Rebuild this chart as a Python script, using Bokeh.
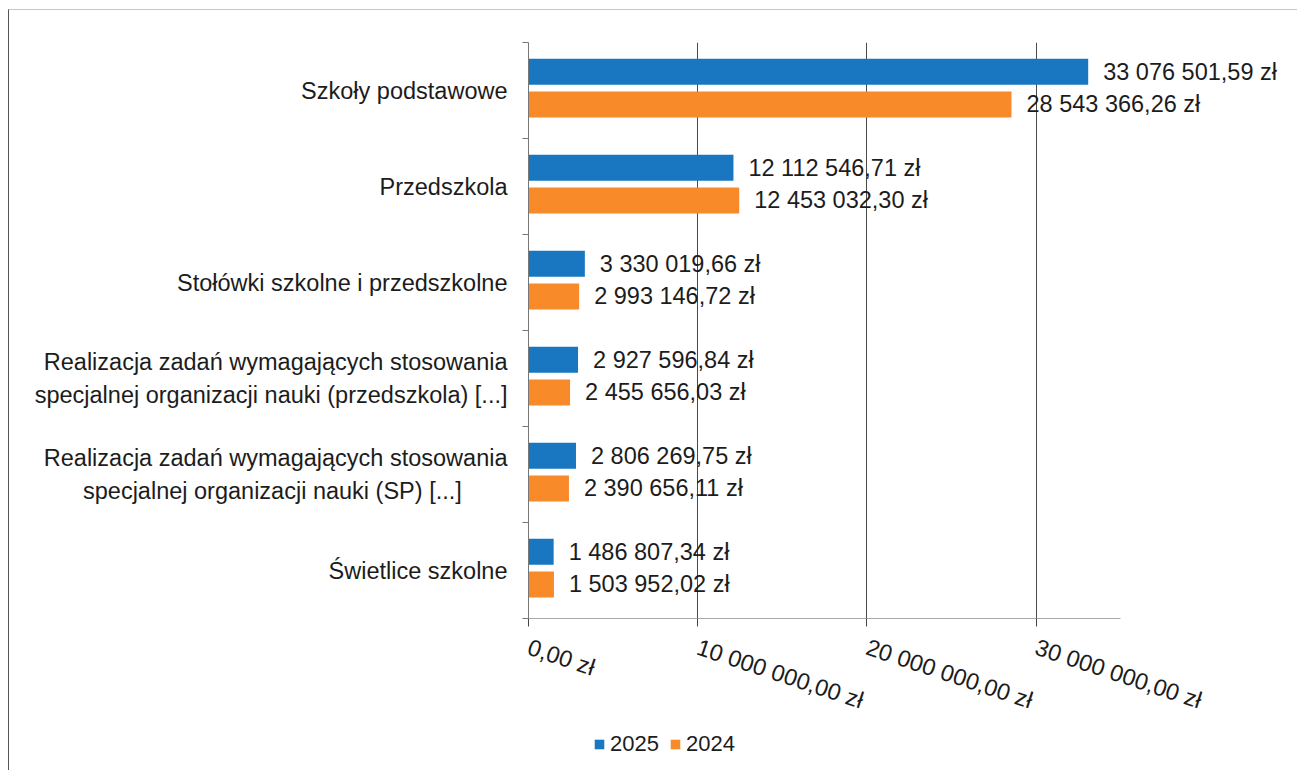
from bokeh.plotting import figure
from bokeh.layouts import column
from bokeh.models import (ColumnDataSource, Range1d, LinearAxis, FixedTicker, LabelSet,
                          Legend, LegendItem)
from bokeh.core.properties import value
from bokeh.embed import file_html
from bokeh.resources import INLINE

categories = [
    "Szkoły podstawowe",
    "Przedszkola",
    "Stołówki szkolne i przedszkolne",
    "Realizacja zadań wymagających stosowania specjalnej organizacji nauki (przedszkola) [...]",
    "Realizacja zadań wymagających stosowania specjalnej organizacji nauki (SP) [...]",
    "Świetlice szkolne",
]
NB = "\u00a0"
category_labels = [
    "Szkoły podstawowe",
    "Przedszkola",
    "Stołówki szkolne i przedszkolne",
    "Realizacja zadań wymagających stosowania\nspecjalnej organizacji nauki (przedszkola) [...]",
    "Realizacja zadań wymagających stosowania\nspecjalnej organizacji nauki (SP) [...]" + NB * 7,
    "Świetlice szkolne",
]
values_2025 = [33076501.59, 12112546.71, 3330019.66, 2927596.84, 2806269.75, 1486807.34]
values_2024 = [28543366.26, 12453032.30, 2993146.72, 2455656.03, 2390656.11, 1503952.02]
series_names = ["2025", "2024"]
x_ticks = [0, 10000000, 20000000, 30000000]
x_axis_end = 35000000

FONT = "Liberation Sans"
FS = "23.5px"
BLUE = "#1877c0"
ORANGE = "#f98a2a"
TXT = "#1c1c1c"
OFF25 = 0.195
OFF24 = -0.145
N = len(categories)


def pl(v):
    return format(v, ",.2f").replace(",", " ").replace(".", ",") + " zł"


centers = [N - 0.5 - i for i in range(N)]
src = ColumnDataSource(dict(
    cat=categories,
    y25=[c + OFF25 for c in centers],
    y24=[c + OFF24 for c in centers],
    v25=values_2025,
    v24=values_2024,
    l25=[pl(v) for v in values_2025],
    l24=[pl(v) for v in values_2024],
))

p = figure(
    width=1288, height=720,
    y_range=Range1d(0, N),
    x_range=Range1d(0, 44500000),
    output_backend="svg", toolbar_location=None,
    x_axis_location=None, y_axis_location=None,
    min_border_left=519, min_border_right=16, min_border_top=32, min_border_bottom=112,
)
p.outline_line_color = None
p.ygrid.visible = False
p.xgrid.ticker = FixedTicker(ticks=x_ticks[1:])
p.xgrid.grid_line_color = "#4a4a4a"
p.xgrid.grid_line_width = 1

tick_axis = LinearAxis(ticker=FixedTicker(ticks=list(range(N + 1))))
tick_axis.axis_line_color = "#777777"
tick_axis.major_tick_line_color = "#777777"
tick_axis.major_tick_out = 6
tick_axis.major_tick_in = 0
tick_axis.minor_tick_line_color = None
tick_axis.major_label_text_font_size = "0px"
tick_axis.major_label_standoff = 0
p.add_layout(tick_axis, "left")

cat_axis = LinearAxis(ticker=FixedTicker(ticks=centers))
cat_axis.axis_line_color = None
cat_axis.major_tick_line_color = None
cat_axis.major_tick_out = 0
cat_axis.minor_tick_line_color = None
cat_axis.major_label_overrides = dict(zip(centers, category_labels))
cat_axis.major_label_text_font = FONT
cat_axis.major_label_text_font_size = FS
cat_axis.major_label_text_color = TXT
cat_axis.major_label_text_line_height = 1.25
cat_axis.major_label_standoff = 15
p.add_layout(cat_axis, "left")

x_axis = LinearAxis(ticker=FixedTicker(ticks=x_ticks), bounds=(0, x_axis_end))
x_axis.major_label_overrides = {t: pl(t) for t in x_ticks}
x_axis.axis_line_color = "#aaaaaa"
x_axis.major_tick_line_color = "#444444"
x_axis.major_tick_out = 8
x_axis.major_tick_in = 0
x_axis.minor_tick_line_color = None
x_axis.major_label_orientation = -0.32
x_axis.major_label_text_font = FONT
x_axis.major_label_text_font_size = FS
x_axis.major_label_text_color = TXT
x_axis.major_label_standoff = 20
p.add_layout(x_axis, "below")

r25 = p.hbar(y="y25", right="v25", height=0.27, left=0,
             source=src, fill_color=BLUE, line_color=None)
r24 = p.hbar(y="y24", right="v24", height=0.27, left=0,
             source=src, fill_color=ORANGE, line_color=None)

for field, yf, lab in (("v25", "y25", "l25"), ("v24", "y24", "l24")):
    ls = LabelSet(x=field, y=yf, text=lab, source=src,
                  x_offset=15, text_baseline="middle", text_align="left",
                  text_font=value(FONT), text_font_size=FS, text_color=TXT)
    p.add_layout(ls)

# legend strip
lf = figure(width=1288, height=40, output_backend="svg", toolbar_location=None,
            x_range=Range1d(0, 1), y_range=Range1d(0, 1),
            x_axis_location=None, y_axis_location=None,
            min_border_left=519, min_border_right=16, min_border_top=0, min_border_bottom=0)
lf.outline_line_color = None
lf.xgrid.visible = False
lf.ygrid.visible = False
e25 = lf.hbar(y="y25", right="v25", left=0, height=0.27, source=src,
              fill_color=BLUE, line_color=None, visible=False)
e24 = lf.hbar(y="y24", right="v24", left=0, height=0.27, source=src,
              fill_color=ORANGE, line_color=None, visible=False)
legend = Legend(items=[LegendItem(label=series_names[0], renderers=[e25]),
                       LegendItem(label=series_names[1], renderers=[e24])],
                orientation="horizontal", location=(65, 13))
legend.label_text_font = FONT
legend.label_text_font_size = "22px"
legend.label_text_color = TXT
legend.glyph_width = 12
legend.glyph_height = 12
legend.label_standoff = 5
legend.spacing = 10
legend.padding = 4
legend.inactive_fill_alpha = 0
legend.border_line_color = None
legend.background_fill_color = None
lf.add_layout(legend)

layout = column(p, lf, spacing=0)
layout.styles = {"border-left": "1.5px solid #555", "border-top": "1px solid #c8c8c8",
                 "margin-left": "8px", "margin-top": "9px"}

open("out.html", "w").write(file_html(layout, INLINE))
